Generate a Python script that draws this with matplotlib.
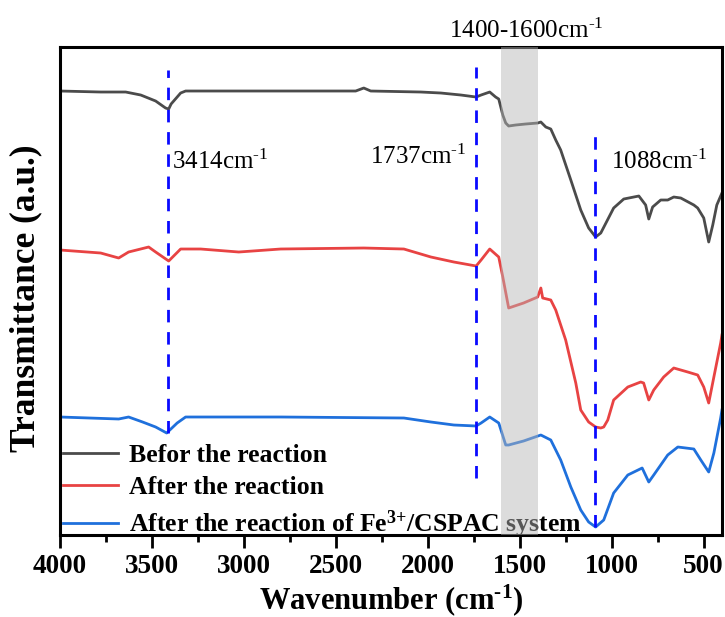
import matplotlib
matplotlib.use("Agg")
import matplotlib.pyplot as plt
from matplotlib.ticker import MultipleLocator

plt.rcParams['font.family'] = ['Liberation Serif', 'DejaVu Serif']
plt.rcParams['mathtext.default'] = 'regular'

SUP = '$^{\u20101}$'  # cm^-1 with a plain hyphen

# wavenumber (cm-1) and transmittance (arbitrary, offset)
wn_before = [4000, 3779, 3643, 3561, 3480, 3426, 3409, 3396, 3344, 3317, 2800, 2392, 2348, 2310,
             2038, 1929, 1820, 1737, 1710, 1663, 1631, 1614, 1592, 1576, 1560, 1522, 1468, 1402,
             1385, 1358, 1331, 1304, 1277, 1222, 1168, 1125, 1087, 1059, 989, 934, 852, 815, 798, 777,
             733, 695, 662, 624, 553, 532, 499, 472, 450, 428, 407, 400]
t_before = [444, 443, 443, 440, 434, 427, 426, 431, 442, 444, 444, 444, 447, 444,
            443, 442, 440, 438, 440, 443, 438, 436, 420, 412, 409, 410, 411, 412,
            413, 408, 406, 395, 385, 355, 325, 307, 298, 302, 327, 336, 339, 330, 316, 328,
            335, 335, 338, 337, 330, 327, 317, 293, 310, 330, 339, 342]

wn_after = [4000, 3779, 3681, 3627, 3518, 3480, 3409, 3344, 3235, 3028, 2800, 2348, 2130, 1983,
            1858, 1737, 1710, 1663, 1614, 1592, 1560, 1479, 1402, 1385, 1375, 1331, 1304, 1250,
            1195, 1168, 1125, 1087, 1059, 1043, 1021, 989, 912, 842, 826, 798, 771, 717, 662,
            586, 532, 499, 472, 444, 407, 400]
t_after = [285, 282, 277, 283, 288, 283, 274, 286, 286, 283, 286, 287, 286, 278,
           273, 269, 275, 286, 278, 258, 227, 232, 238, 247, 237, 235, 225, 195,
           152, 125, 113, 108, 107, 108, 115, 135, 148, 153, 152, 135, 145, 158, 167,
           163, 160, 148, 132, 158, 192, 200]

wn_fe = [4000, 3681, 3627, 3551, 3480, 3420, 3363, 3317, 2800, 2130, 1983, 1858, 1737, 1710,
         1663, 1614, 1576, 1560, 1479, 1385, 1331, 1277, 1222, 1168, 1125, 1087, 1043, 989,
         912, 834, 798, 771, 695, 640, 553, 515, 472, 444, 407, 400]
t_fe = [118, 116, 118, 113, 108, 102, 112, 118, 118, 117, 113, 110, 109, 112,
        118, 112, 90, 90, 94, 100, 95, 75, 48, 25, 13, 8, 15, 42,
        60, 67, 53, 60, 80, 88, 86, 75, 63, 82, 117, 125]

labels = ['Befor the reaction', 'After the reaction',
          'After the reaction of Fe$^{3{+}}$/CSPAC system']
colors = ['#4b4b4b', '#e84343', '#1f70dc']

peaks = [3414, 1737, 1088]
peak_lo = [102, 57, 8]
peak_hi = [465, 468, 403]

fig = plt.figure(figsize=(7.25, 6.17), dpi=100)
ax = fig.add_axes([0.0828, 0.1329, 0.9130, 0.7909])

for wn, t, c, lab in zip([wn_before, wn_after, wn_fe], [t_before, t_after, t_fe], colors, labels):
    ax.plot(wn, t, color=c, lw=2.0, label=lab, solid_joinstyle='round')

for p, lo, hi in zip(peaks, peak_lo, peak_hi):
    ax.plot([p, p], [lo, hi], color='#0a0aff', lw=2.0, dashes=(4.5, 3.5))

ax.axvspan(1400, 1600, color='#b6b6b6', alpha=0.48, lw=0, zorder=10)

ax.text(3390, 373, '3414cm' + SUP, fontsize=18, va='center', ha='left')
ax.text(1790, 378, '1737cm' + SUP, fontsize=18, va='center', ha='right')
ax.text(1005, 373, '1088cm' + SUP, fontsize=18, va='center', ha='left')
ax.text(1465, 504, '1400-1600cm' + SUP, fontsize=18, va='center', ha='center', clip_on=False)

ax.set_xlim(4000, 400)
ax.set_ylim(0, 488)
ax.xaxis.set_major_locator(MultipleLocator(500))
ax.xaxis.set_minor_locator(MultipleLocator(250))
ax.tick_params(axis='x', which='major', direction='out', length=9, width=2, labelsize=19.5, pad=5)
ax.tick_params(axis='x', which='minor', direction='out', length=5, width=2)
ax.set_yticks([])
for lab in ax.get_xticklabels():
    lab.set_fontweight('bold')
for s in ax.spines.values():
    s.set_linewidth(2.2)

ax.set_xlabel('Wavenumber (cm' + SUP + ')', fontsize=22, fontweight='bold', labelpad=2)
ax.set_ylabel('Transmittance (a.u.)', fontsize=25.5, fontweight='bold')
ax.yaxis.set_label_coords(-0.027, 0.485)

ax.legend(loc='lower left', bbox_to_anchor=(0, -0.015), frameon=False,
          prop={'weight': 'bold', 'size': 18.5},
          handlelength=2.15, handletextpad=0.45, labelspacing=0.36,
          borderaxespad=0.0, borderpad=0.1)

fig.savefig('out.png', dpi=100)
